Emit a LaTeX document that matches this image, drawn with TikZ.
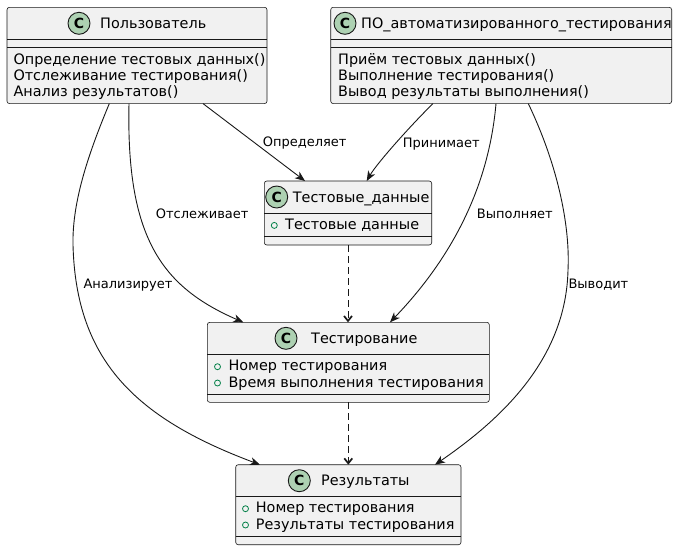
\documentclass[tikz,border=0pt]{standalone}
\usepackage{fontspec}
\setmainfont{DejaVu Sans}
\usetikzlibrary{arrows.meta,calc}

\definecolor{umlline}{HTML}{181818}
\definecolor{umlfill}{HTML}{F1F1F1}
\definecolor{spotfill}{HTML}{ADD1B2}
\definecolor{attrgreen}{HTML}{038048}

\tikzset{
  classbox/.style={draw=umlline, fill=umlfill, line width=0.6pt, rounded corners=2.5pt,
    inner sep=0pt, outer sep=0pt, anchor=north west},
  sepline/.style={draw=umlline, line width=0.6pt},
  spot/.style={circle, draw=umlline, fill=spotfill, line width=0.9pt, minimum size=22pt,
    inner sep=0pt, font=\fontsize{14}{14}\bfseries\selectfont},
  classname/.style={anchor=base west, inner sep=0pt, font=\fontsize{14.4}{16}\selectfont},
  member/.style={anchor=base west, inner sep=0pt, font=\fontsize{14.4}{16}\selectfont},
  vis/.style={circle, draw=attrgreen, line width=0.8pt, minimum size=6pt, inner sep=0pt},
  rel/.style={draw=umlline, line width=0.9pt, -{Stealth[length=10pt,width=8pt,inset=3pt]}},
  dep/.style={draw=umlline, line width=0.9pt, dash pattern=on 7pt off 4pt,
    -{Straight Barb[length=5pt,width=8pt,line width=1.7pt]}},
  lbl/.style={anchor=base west, inner sep=0pt, font=\fontsize{13}{15}\selectfont},
}

\begin{document}
\begin{tikzpicture}[x=1pt, y=-1pt]
\useasboundingbox (0,0) rectangle (679,550);

% ---------- class boxes ----------
\node[classbox, minimum width=260pt, minimum height=96.3pt] (user) at (7,7.3) {};
\node[classbox, minimum width=341pt, minimum height=96.3pt] (soft) at (330.7,7.3) {};
\node[classbox, minimum width=167.4pt, minimum height=64pt] (data) at (264.3,181) {};
\node[classbox, minimum width=282pt, minimum height=80pt] (test) at (207.3,322.3) {};
\node[classbox, minimum width=225.3pt, minimum height=80pt] (res) at (235.7,464.7) {};

% compartment separators
\foreach \c/\a/\b in {user/32/40.3, soft/32/40.3, data/32/55.7, test/32/71.7, res/32/71.7}{
  \draw[sepline] ([yshift=-\a pt]\c.north west) -- ([yshift=-\a pt]\c.north east);
  \draw[sepline] ([yshift=-\b pt]\c.north west) -- ([yshift=-\b pt]\c.north east);
}

% ---------- headers ----------
\node[spot] (userC) at (79,23.3) {C};
\node[classname] (userN) at (100,28.4) {Пользователь};
\node[spot] (softC) at (345,23.3) {C};
\node[classname] (softN) at (361,28.4) {ПО\_автоматизированного\_тестирования};
\node[spot] (dataC) at (276.7,197) {C};
\node[classname] (dataN) at (292.7,202.1) {Тестовые\_данные};
\node[spot] (testC) at (286,338.3) {C};
\node[classname] (testN) at (311,343.4) {Тестирование};
\node[spot] (resC) at (299.3,480.7) {C};
\node[classname] (resN) at (321,485.8) {Результаты};

% ---------- methods ----------
\node[member] (userM1) at (13.3,64) {Определение тестовых данных()};
\node[member] (userM2) at (13.3,80.3) {Отслеживание тестирования()};
\node[member] (userM3) at (13.3,96.6) {Анализ результатов()};
\node[member] (softM1) at (338,64) {Приём тестовых данных()};
\node[member] (softM2) at (338,80.3) {Выполнение тестирования()};
\node[member] (softM3) at (338,96.6) {Вывод результаты выполнения()};

% ---------- attributes ----------
\node[vis] (dataV1) at (274.3,225.4) {};
\node[member] (dataA1) at (285,229.4) {Тестовые данные};
\node[vis] (testV1) at (217.5,366.7) {};
\node[member] (testA1) at (228.3,370.7) {Номер тестирования};
\node[vis] (testV2) at (217.5,383) {};
\node[member] (testA2) at (228.3,387) {Время выполнения тестирования};
\node[vis] (resV1) at (245.5,508.7) {};
\node[member] (resA1) at (255.7,512.7) {Номер тестирования};
\node[vis] (resV2) at (245.5,525) {};
\node[member] (resA2) at (255.7,529) {Результаты тестирования};

% ---------- associations ----------
\draw[rel] ([xshift=196pt]user.south west) -- ([xshift=40.7pt]data.north west);
\draw[rel] ([xshift=102.3pt]soft.south west) .. controls (413,123) and (377,163) .. ([xshift=102.4pt]data.north west);
\draw[rel] ([xshift=122pt]user.south west) .. controls (126,238) and (162,287) .. ([xshift=36pt]test.north west);
\draw[rel] ([xshift=102.3pt]user.south west) .. controls (90,150) and (72,200) .. (73,245)
  .. controls (76,360) and (135,418) .. ([xshift=24.3pt]res.north west);
\draw[rel] ([xshift=165.3pt]soft.south west) .. controls (488,195) and (445,265) .. ([xshift=182.7pt]test.north west);
\draw[rel] ([xshift=197.6pt]soft.south west) .. controls (560,170) and (570,230) .. (568,270)
  .. controls (566,360) and (500,420) .. ([xshift=199.3pt]res.north west);

% ---------- dependencies ----------
\draw[dep] (data.south) -- (data.south |- test.north);
\draw[dep] (test.south) -- (test.south |- res.north);

% ---------- labels ----------
\node[lbl] (lDef) at (262.7,146.5) {Определяет};
\node[lbl] (lAcc) at (402.7,147.3) {Принимает};
\node[lbl] (lTrk) at (155.7,218.3) {Отслеживает};
\node[lbl] (lRun) at (476.7,218.3) {Выполняет};
\node[lbl] (lAna) at (83.3,288.3) {Анализирует};
\node[lbl] (lOut) at (568.3,288.3) {Выводит};
\end{tikzpicture}
\end{document}
